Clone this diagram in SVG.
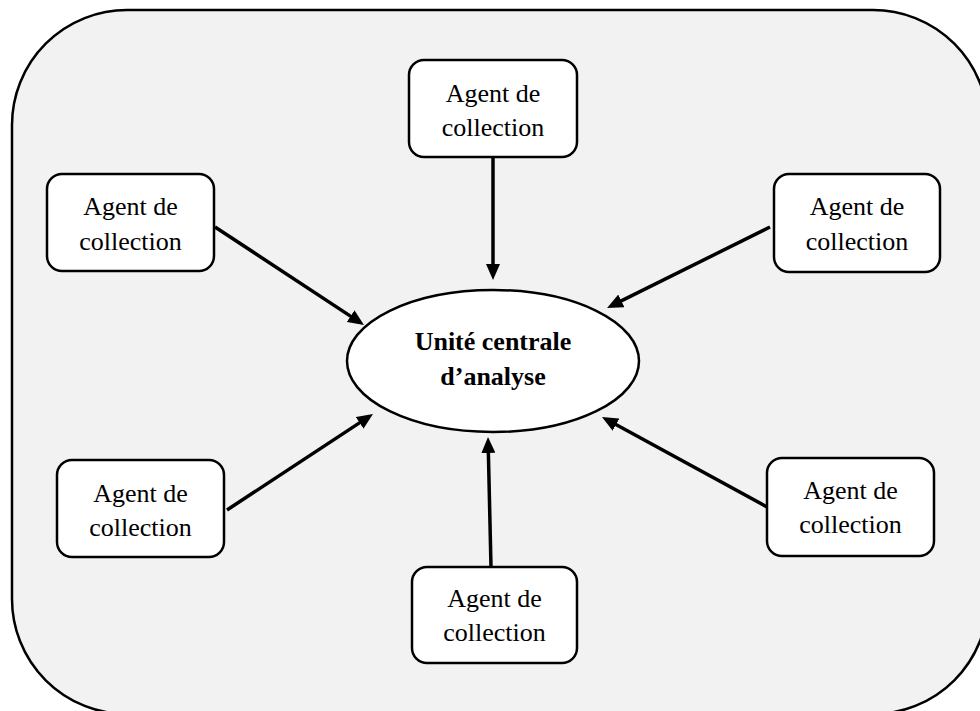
<svg xmlns="http://www.w3.org/2000/svg" width="980" height="711" viewBox="0 0 980 711">
  <style>
    .frame { fill: #f2f2f2; stroke: #000; stroke-width: 2.5; }
    .agent rect { fill: #fff; stroke: #000; stroke-width: 2.5; }
    .agent text { font-family: "Liberation Serif", "Times New Roman", serif; font-size: 26px; text-anchor: middle; fill: #000; }
    .core ellipse { fill: #fff; stroke: #000; stroke-width: 2.5; }
    .core text { font-family: "Liberation Serif", "Times New Roman", serif; font-size: 26px; font-weight: bold; text-anchor: middle; fill: #000; }
    .link { stroke: #000; stroke-width: 3.5; fill: none; marker-end: url(#head); }
  </style>
  <defs>
    <marker id="head" markerUnits="userSpaceOnUse" markerWidth="16" markerHeight="14" refX="8" refY="7" orient="auto">
      <path d="M0,0 L16,7 L0,14 z" fill="#000"/>
    </marker>
  </defs>

  <!-- outer frame -->
  <rect class="frame" x="12" y="10" width="976" height="704" rx="115" ry="115"/>

  <!-- connectors: every agent points to the central unit -->
  <g id="connectors">
    <line class="link" x1="493" y1="157" x2="493" y2="272"/>
    <line class="link" x1="215" y1="227" x2="357.3" y2="320.6"/>
    <line class="link" x1="770" y1="227" x2="614.2" y2="304.4"/>
    <line class="link" x1="227" y1="510" x2="366.3" y2="418.4"/>
    <line class="link" x1="767" y1="507" x2="609" y2="420.8"/>
    <line class="link" x1="491" y1="567" x2="488.2" y2="445"/>
  </g>

  <!-- central analysis unit -->
  <g id="central-unit" class="core">
    <ellipse cx="493" cy="361" rx="146" ry="71"/>
    <text x="493" y="350">Unité centrale</text>
    <text x="493" y="385">d’analyse</text>
  </g>

  <!-- collection agents -->
  <g id="agent-top" class="agent">
    <rect x="409" y="60" width="168" height="97" rx="15" ry="15"/>
    <text x="493" y="102">Agent de</text>
    <text x="493" y="136">collection</text>
  </g>
  <g id="agent-top-left" class="agent">
    <rect x="47" y="174" width="167" height="97" rx="15" ry="15"/>
    <text x="130.5" y="215">Agent de</text>
    <text x="130.5" y="250">collection</text>
  </g>
  <g id="agent-top-right" class="agent">
    <rect x="774" y="174" width="166" height="98" rx="15" ry="15"/>
    <text x="857" y="215">Agent de</text>
    <text x="857" y="250">collection</text>
  </g>
  <g id="agent-bottom-left" class="agent">
    <rect x="57" y="460" width="167" height="97" rx="15" ry="15"/>
    <text x="140.5" y="502">Agent de</text>
    <text x="140.5" y="536">collection</text>
  </g>
  <g id="agent-bottom-right" class="agent">
    <rect x="767" y="458" width="167" height="98" rx="15" ry="15"/>
    <text x="850.5" y="499">Agent de</text>
    <text x="850.5" y="533">collection</text>
  </g>
  <g id="agent-bottom" class="agent">
    <rect x="412" y="567" width="165" height="96" rx="15" ry="15"/>
    <text x="494.5" y="607">Agent de</text>
    <text x="494.5" y="641">collection</text>
  </g>
</svg>
